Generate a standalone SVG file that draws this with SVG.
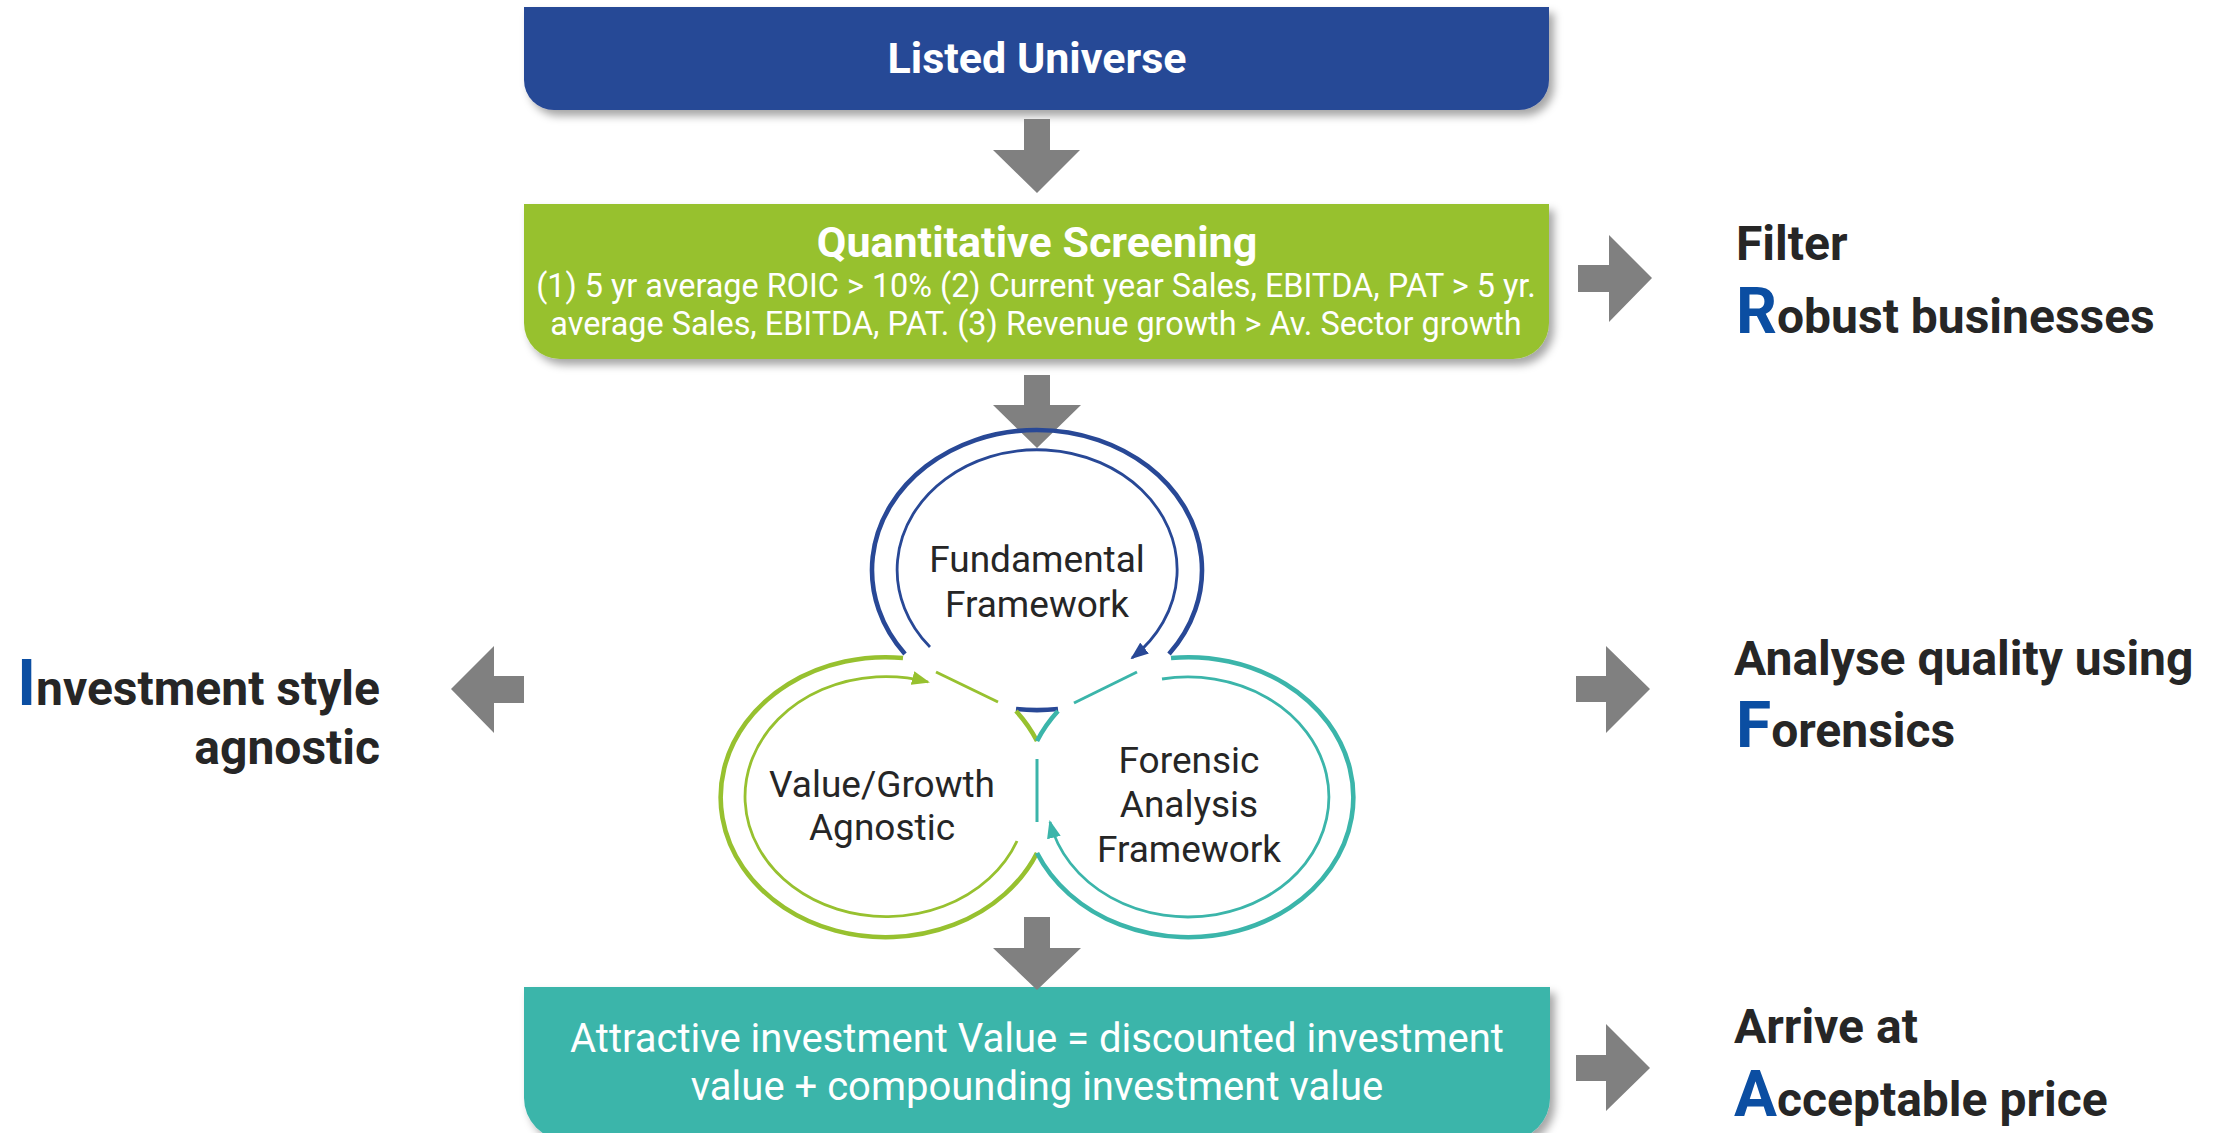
<svg xmlns="http://www.w3.org/2000/svg" width="2219" height="1133" viewBox="0 0 2219 1133">
<style>
text{font-family:Roboto,"Liberation Sans",sans-serif}
.ttl{font-size:43px;font-weight:700;fill:#fff;text-anchor:middle}
.sub{font-size:32.4px;fill:#fff;text-anchor:middle}
.bot{font-size:40px;fill:#fff;text-anchor:middle}
.cir{font-size:37px;fill:#262626;text-anchor:middle}
.lab{font-size:48px;font-weight:700;fill:#262626}
.cap{font-size:64px;fill:#0b4ea2}
.arr{fill:#808080}
.bo{fill:none;stroke:#284896;stroke-width:4.6}
.bi{fill:none;stroke:#284896;stroke-width:2.8}
.go{fill:none;stroke:#97c12f;stroke-width:4.6}
.gi{fill:none;stroke:#97c12f;stroke-width:2.8}
.to{fill:none;stroke:#3bb5aa;stroke-width:4.6}
.ti{fill:none;stroke:#3bb5aa;stroke-width:2.8}
</style>
<defs>
<filter id="sh" x="-5%" y="-20%" width="112%" height="150%">
<feDropShadow dx="5" dy="6" stdDeviation="4" flood-color="#000" flood-opacity="0.35"/>
</filter>
<marker id="mb" markerUnits="userSpaceOnUse" markerWidth="18" markerHeight="14" viewBox="0 0 18 14" refX="16" refY="7" orient="auto"><path d="M0,0 L18,7 L0,14 Z" fill="#284896"/></marker>
<marker id="mg" markerUnits="userSpaceOnUse" markerWidth="18" markerHeight="14" viewBox="0 0 18 14" refX="16" refY="7" orient="auto"><path d="M0,0 L18,7 L0,14 Z" fill="#97c12f"/></marker>
<marker id="mt" markerUnits="userSpaceOnUse" markerWidth="18" markerHeight="14" viewBox="0 0 18 14" refX="16" refY="7" orient="auto"><path d="M0,0 L18,7 L0,14 Z" fill="#3bb5aa"/></marker>
</defs>
<rect width="2219" height="1133" fill="#fff"/>

<g id="listed-universe">
<path d="M524,7 H1549 V80 A30,30 0 0 1 1519,110 H554 A30,30 0 0 1 524,80 Z" fill="#284896" filter="url(#sh)"/>
<text class="ttl" x="1037" y="73">Listed Universe</text>
</g>

<g id="quantitative-screening">
<path d="M524,204 H1549 V323 A36,36 0 0 1 1513,359 H560 A36,36 0 0 1 524,323 Z" fill="#97c12f" filter="url(#sh)"/>
<text class="ttl" x="1037" y="257">Quantitative Screening</text>
<text class="sub" x="1036" y="297">(1) 5 yr average ROIC &gt; 10% (2) Current year Sales, EBITDA, PAT &gt; 5 yr.</text>
<text class="sub" x="1036" y="335">average Sales, EBITDA, PAT. (3) Revenue growth &gt; Av. Sector growth</text>
</g>

<g id="attractive-value">
<path d="M524,987 H1550 V1098 A42,42 0 0 1 1508,1140 H566 A42,42 0 0 1 524,1098 Z" fill="#3bb5aa" filter="url(#sh)"/>
<text class="bot" x="1037" y="1052">Attractive investment Value = discounted investment</text>
<text class="bot" x="1037" y="1100">value + compounding investment value</text>
</g>

<g id="connectors">
<path class="arr" d="M1024,119 H1050 V150 H1080 L1037,193 L993,150 H1024 Z"/>
<path class="arr" d="M1024,375 H1050 V405 H1081 L1037,448 L993,405 H1024 Z"/>
<path class="arr" d="M1024,917 H1050 V948 H1081 L1037,990 L993,948 H1024 Z"/>
<path class="arr" d="M1578,265 H1609 V235 L1652,278 L1609,322 V292 H1578 Z"/>
<path class="arr" d="M1576,676 H1606 V646 L1650,689 L1606,733 V702 H1576 Z"/>
<path class="arr" d="M1576,1055 H1606 V1024 L1650,1068 L1606,1111 V1081 H1576 Z"/>
<path class="arr" d="M524,676 H494 V646 L451,689 L494,733 V703 H524 Z"/>
</g>

<g id="fundamental-framework">
<path class="bo" d="M905,654 A165,140 0 1 1 1169,654"/>
<path class="bo" d="M1016,709 A165,140 0 0 0 1058,709"/>
<path class="bi" d="M930,647 A140,120 0 1 1 1132,658" marker-end="url(#mb)"/>
<text class="cir" x="1037" y="572">Fundamental</text>
<text class="cir" x="1037" y="617">Framework</text>
</g>

<g id="value-growth-agnostic">
<path class="go" d="M1037,853 A165,140 0 1 1 903,658"/>
<path class="go" d="M1016,711 A165,140 0 0 1 1037,741"/>
<path class="gi" d="M1017,841 A141,120 0 1 1 928,682" marker-end="url(#mg)"/>
<line x1="936" y1="672" x2="998" y2="702" stroke="#97c12f" stroke-width="3"/>
<text class="cir" x="882" y="797">Value/Growth</text>
<text class="cir" x="882" y="840">Agnostic</text>
</g>

<g id="forensic-analysis-framework">
<path class="to" d="M1037,853 A165,140 0 1 0 1171,658"/>
<path class="to" d="M1058,711 A165,140 0 0 0 1037,741"/>
<path class="ti" d="M1162,679 A141,120 0 1 1 1050,822" marker-end="url(#mt)"/>
<line x1="1137" y1="672" x2="1074" y2="703" stroke="#3bb5aa" stroke-width="3"/>
<line x1="1037" y1="759" x2="1037" y2="822" stroke="#3bb5aa" stroke-width="3"/>
<text class="cir" x="1189" y="773">Forensic</text>
<text class="cir" x="1189" y="817">Analysis</text>
<text class="cir" x="1189" y="862">Framework</text>
</g>

<g id="label-filter">
<text class="lab" x="1736" y="260">Filter</text>
<text class="lab" x="1736" y="333"><tspan class="cap">R</tspan>obust businesses</text>
</g>

<g id="label-forensics">
<text class="lab" x="1734" y="675">Analyse quality using</text>
<text class="lab" x="1736" y="747"><tspan class="cap">F</tspan>orensics</text>
</g>

<g id="label-price">
<text class="lab" x="1734" y="1043">Arrive at</text>
<text class="lab" x="1734" y="1116"><tspan class="cap">A</tspan>cceptable price</text>
</g>

<g id="label-style">
<text class="lab" x="380" y="705" text-anchor="end"><tspan class="cap">I</tspan>nvestment style</text>
<text class="lab" x="380" y="764" text-anchor="end">agnostic</text>
</g>
</svg>
